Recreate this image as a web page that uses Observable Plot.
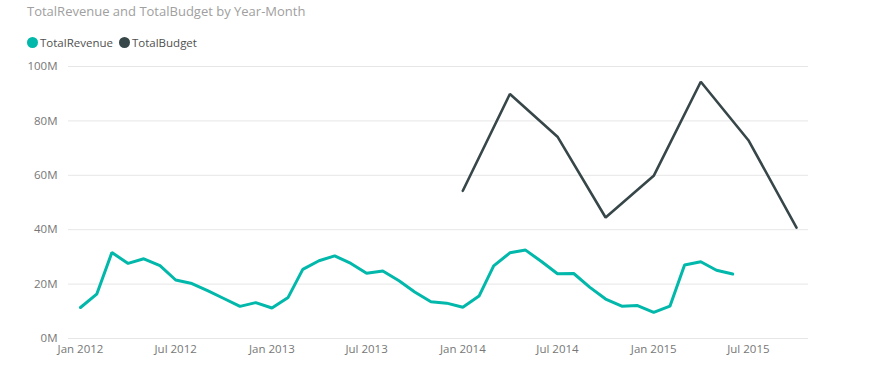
<!DOCTYPE html>
<html>
<head>
<meta charset="utf-8">
<script src="https://cdn.jsdelivr.net/npm/d3@7"></script>
<script src="https://cdn.jsdelivr.net/npm/@observablehq/plot@0.6"></script>
<style>
  body { margin: 0; background: #fff; font-family: "Open Sans", sans-serif; }
  #wrap { position: relative; width: 878px; height: 376px; overflow: hidden; }
  #title { position: absolute; left: 27px; top: 3px; font-size: 13px; color: #a0a0a0; line-height: 16px; white-space: nowrap; }
  #legend { position: absolute; left: 27px; top: 35px; height: 14px; display: flex; align-items: center; font-size: 11.5px; color: #505050; white-space: nowrap; }
  #legend .sw { width: 11px; height: 11px; border-radius: 50%; display: inline-block; margin-right: 2px; }
  #legend .item { display: flex; align-items: center; margin-right: 6px; }
  #chart { position: absolute; left: 0; top: 54px; }
</style>
</head>
<body>
<div id="wrap">
  <div id="title">TotalRevenue and TotalBudget by Year-Month</div>
  <div id="legend"></div>
  <div id="chart"></div>
</div>
<script>
// ---- data (values in millions) ----
const revenueMonths = [
  "2012-01","2012-02","2012-03","2012-04","2012-05","2012-06","2012-07","2012-08","2012-09","2012-10","2012-11","2012-12",
  "2013-01","2013-02","2013-03","2013-04","2013-05","2013-06","2013-07","2013-08","2013-09","2013-10","2013-11","2013-12",
  "2014-01","2014-02","2014-03","2014-04","2014-05","2014-06","2014-07","2014-08","2014-09","2014-10","2014-11","2014-12",
  "2015-01","2015-02","2015-03","2015-04","2015-05","2015-06"
];
const revenueValues = [
  11.4, 16.3, 31.6, 27.6, 29.3, 26.8, 21.5, 20.2, 17.5, 14.7, 11.8, 13.2,
  11.2, 15.1, 25.4, 28.6, 30.4, 27.6, 24.0, 24.8, 21.2, 17.1, 13.5, 13.0,
  11.5, 15.6, 26.7, 31.5, 32.5, 28.2, 23.8, 23.9, 18.8, 14.5, 11.9, 12.1,
  9.6, 11.9, 27.0, 28.2, 25.1, 23.7
];
const budgetMonths = ["2014-01","2014-04","2014-07","2014-10","2015-01","2015-04","2015-07","2015-10"];
const budgetValues = [54.3, 89.9, 74.2, 44.5, 59.8, 94.4, 72.9, 40.8];

const yTicks = [0, 20, 40, 60, 80, 100];
const xTickLabels = ["2012-01","2012-07","2013-01","2013-07","2014-01","2014-07","2015-01","2015-07"];
const xDomain = ["2012-01", "2015-10"];

const seriesNames = ["TotalRevenue", "TotalBudget"];
const seriesColors = ["#01B8AA", "#374649"];

// ---- build tables ----
const parse = d3.utcParse("%Y-%m");
const revenue = revenueMonths.map((m, i) => ({date: parse(m), value: revenueValues[i]}));
const budget = budgetMonths.map((m, i) => ({date: parse(m), value: budgetValues[i]}));

// legend
const legend = document.getElementById("legend");
seriesNames.forEach((name, i) => {
  const item = document.createElement("span");
  item.className = "item";
  item.innerHTML = `<span class="sw" style="background:${seriesColors[i]}"></span><span>${name}</span>`;
  legend.appendChild(item);
});

const fmt = d3.utcFormat("%b %Y");

const chart = Plot.plot({
  width: 878,
  height: 322,
  marginTop: 12,
  marginBottom: 38,
  marginLeft: 68,
  marginRight: 70,
  insetLeft: 12,
  insetRight: 12,
  style: {fontFamily: "'Open Sans', sans-serif", fontSize: "11.5px", color: "#777", background: "#fff"},
  x: {type: "utc", domain: xDomain.map(parse)},
  y: {domain: [0, 100]},
  marks: [
    Plot.gridY(yTicks, {stroke: "#e6e6e6", strokeOpacity: 1, strokeWidth: 1}),
    Plot.axisY(yTicks, {tickSize: 0, tickPadding: 11, tickFormat: d => d + "M", fill: "#777", label: null}),
    Plot.axisX(xTickLabels.map(parse), {tickSize: 0, tickPadding: 6, tickFormat: fmt, fill: "#777", label: null}),
    Plot.line(revenue, {x: "date", y: "value", stroke: seriesColors[0], strokeWidth: 3, strokeLinejoin: "miter"}),
    Plot.line(budget, {x: "date", y: "value", stroke: seriesColors[1], strokeWidth: 2.6, strokeLinejoin: "miter"})
  ]
});
document.getElementById("chart").appendChild(chart);
</script>
</body>
</html>
